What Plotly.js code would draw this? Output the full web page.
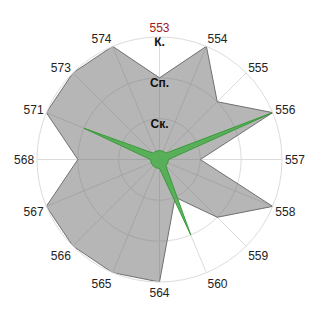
<!DOCTYPE html>
<html>
<head>
<meta charset="utf-8">
<script src="https://cdn.plot.ly/plotly-3.0.1.min.js"></script>
<style>html,body{margin:0;padding:0;background:#fff;}#chart{width:320px;height:320px;}</style>
</head>
<body>
<div id="chart"></div>
<script>
var categories = ['553','554','555','556','557','558','559','560','564','565','566','567','568','571','573','574'];
var grayValues = [2, 3, 2, 3, 1, 3, 2, 1, 3, 3, 3, 3, 2, 3, 3, 3];
var greenValues = [0.22, 0.22, 0.22, 3, 0.22, 0.22, 0.22, 2, 0.22, 0.22, 0.22, 0.22, 0.22, 2, 0.22, 0.22];
var levelValues = [1, 2, 3];
var levelLabels = ['Ск.', 'Сп.', 'К.'];
var highlighted = '553';

function closeLoop(a){ return a.concat([a[0]]); }

var tickText = categories.map(function(c){
  return c === highlighted ? '<span style="color:#a01818">' + c + '</span>' : c;
});

var traces = [
  {
    type: 'scatterpolar', mode: 'lines', fill: 'toself',
    r: closeLoop(grayValues), theta: closeLoop(categories),
    fillcolor: 'rgba(110,110,110,0.5)',
    line: {color: '#707070', width: 1},
    hoverinfo: 'skip'
  },
  {
    type: 'scatterpolar', mode: 'lines', fill: 'toself',
    r: closeLoop(greenValues), theta: closeLoop(categories),
    fillcolor: 'rgba(80,175,80,0.9)',
    line: {color: '#3a9a3a', width: 1},
    hoverinfo: 'skip'
  },
  {
    type: 'scatterpolar', mode: 'text',
    r: levelValues, theta: levelValues.map(function(){ return categories[0]; }),
    text: levelLabels.map(function(t){ return '<b>' + t + '</b>'; }),
    textposition: 'bottom center',
    textfont: {family: 'Arial, Liberation Sans, sans-serif', size: 12, color: '#111'},
    hoverinfo: 'skip'
  }
];

var layout = {
  width: 320, height: 320,
  margin: {l: 37, r: 38, t: 37, b: 38},
  paper_bgcolor: '#fff',
  showlegend: false,
  font: {family: 'Arial, Liberation Sans, sans-serif', size: 12, color: '#222'},
  polar: {
    bgcolor: '#fff',
    radialaxis: {
      range: [0, 3], tickvals: levelValues, showticklabels: false,
      showline: false, ticks: '', gridcolor: '#dcdcdc', gridwidth: 1
    },
    angularaxis: {
      type: 'category', categoryarray: categories,
      direction: 'clockwise', rotation: 90,
      tickmode: 'array', tickvals: categories, ticktext: tickText,
      ticks: '', showline: true, linecolor: '#dcdcdc', linewidth: 1,
      gridcolor: '#dcdcdc', gridwidth: 1,
      tickfont: {size: 12, color: '#222'}
    }
  }
};

Plotly.newPlot('chart', traces, layout, {displayModeBar: false, staticPlot: true});
</script>
</body>
</html>
